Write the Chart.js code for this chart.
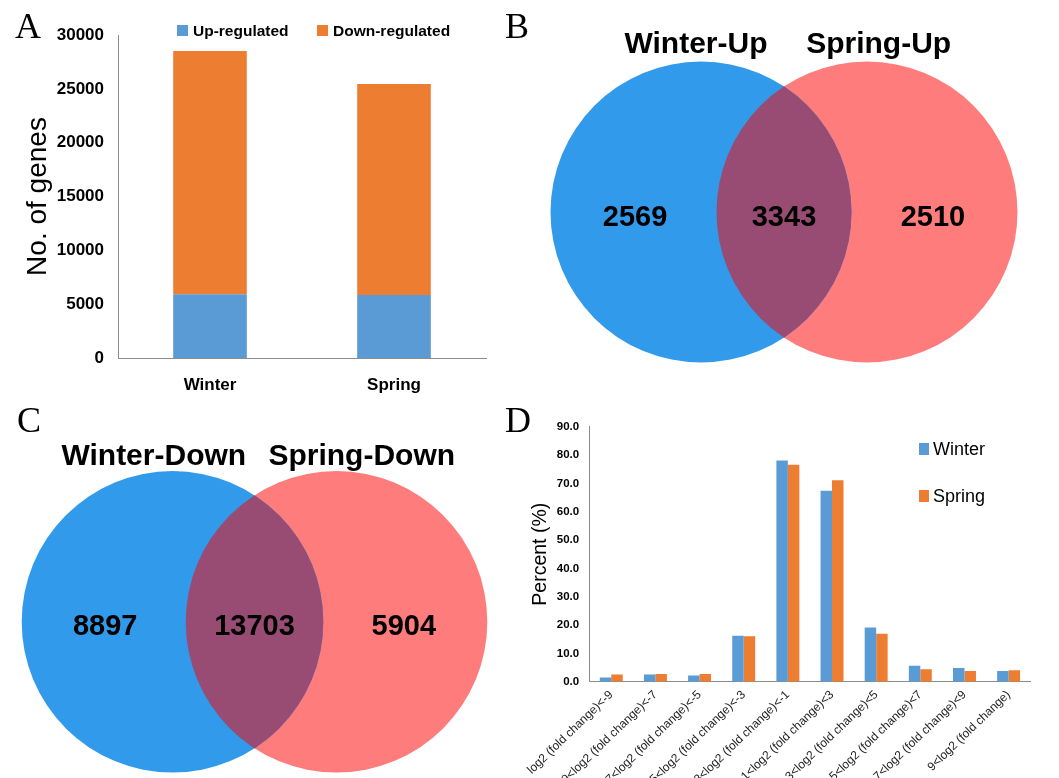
<!DOCTYPE html>
<html>
<head>
<meta charset="utf-8">
<script src="https://cdn.jsdelivr.net/npm/chart.js@4"></script>
<style>
  body { margin: 0; width: 1059px; height: 778px; overflow: hidden; background: #fff; position: relative;
         font-family: "Liberation Sans", Arial, sans-serif; }
  canvas, .tag, .key { position: absolute; }
  .tag { font-family: "Liberation Serif", "Times New Roman", serif; font-size: 36px; line-height: 36px; }
  .key { height: 20px; display: flex; align-items: center; white-space: nowrap; color: #000; }
  .key i { display: inline-block; }
</style>
</head>
<body>
<canvas id="barA" width="520" height="400" style="left:0;top:0"></canvas>
<canvas id="vennB" width="539" height="400" style="left:520px;top:0"></canvas>
<canvas id="vennC" width="520" height="378" style="left:0;top:400px"></canvas>
<canvas id="barD" width="539" height="400" style="left:520px;top:400px"></canvas>
<div class="tag" style="left:15px;top:8px">A</div>
<div class="tag" style="left:505px;top:8px">B</div>
<div class="tag" style="left:17px;top:402px">C</div>
<div class="tag" style="left:505px;top:402px">D</div>

<script>
// panel A
const periods = ['Winter', 'Spring'];
const upRegulated = [5912, 5853];
const downRegulated = [22600, 19607];

// panels B and C (Venn counts: only first, shared, only second)
const upSets = ['Winter-Up', 'Spring-Up'];
const upCounts = [2569, 3343, 2510];
const downSets = ['Winter-Down', 'Spring-Down'];
const downCounts = [8897, 13703, 5904];

// panel D
const foldBins = ['log2 (fold change)<-9', '-9<log2 (fold change)<-7', '-7<log2 (fold change)<-5',
  '-5<log2 (fold change)<-3', '-3<log2 (fold change)<-1', '1<log2 (fold change)<3',
  '3<log2 (fold change)<5', '5<log2 (fold change)<7', '7<log2 (fold change)<9', '9<log2 (fold change)'];
const winterPct = [1.5, 2.5, 2.2, 16.2, 78.1, 67.4, 19.1, 5.6, 4.8, 3.8];
const springPct = [2.5, 2.7, 2.7, 16.0, 76.6, 71.1, 16.9, 4.4, 3.8, 4.0];
const percentTicks = [0, 90, 10];

const FONT = '"Liberation Sans", Arial, sans-serif';
const blue = '#5B9BD5', orange = '#ED7D31';
const vennBlue = '#329AEB', vennRed = '#FF7C7C', vennMix = '#984C74';

Chart.defaults.font.family = FONT;
Chart.defaults.color = '#000';
Chart.defaults.animation = false;
Chart.defaults.events = [];
Chart.defaults.plugins.legend.display = false;
Chart.defaults.plugins.tooltip.enabled = false;

function addKeys(chart, spots, font, boxW, boxH, gap) {
  chart.data.datasets.forEach((ds, i) => {
    const el = document.createElement('div');
    el.className = 'key';
    el.style.left = spots[i][0] + 'px';
    el.style.top = (spots[i][1] - 10) + 'px';
    el.style.font = font;
    el.innerHTML = '<i style="width:' + boxW + 'px;height:' + boxH + 'px;margin-right:' + gap +
      'px;background:' + ds.backgroundColor + '"></i>' + ds.label;
    document.body.appendChild(el);
  });
}

let chartA = new Chart(document.getElementById('barA'), {
  type: 'bar',
  data: {
    labels: periods,
    datasets: [
      { label: 'Up-regulated', data: upRegulated, backgroundColor: blue },
      { label: 'Down-regulated', data: downRegulated, backgroundColor: orange }
    ]
  },
  options: {
    responsive: false,
    layout: { padding: { left: 0, top: 35, right: 34, bottom: 0 } },
    datasets: { bar: { categoryPercentage: 0.4, barPercentage: 1 } },
    scales: {
      x: {
        stacked: true,
        grid: { display: false, drawTicks: false },
        border: { color: '#8c8c8c' },
        ticks: { font: { size: 17, weight: 'bold' }, padding: 17 },
        afterFit: s => { s.height = 42 }
      },
      y: {
        stacked: true, min: 0, max: 30000,
        grid: { display: false, drawTicks: false },
        border: { color: '#8c8c8c' },
        ticks: { stepSize: 5000, font: { size: 17, weight: 'bold' }, padding: 14, callback: v => String(v) },
        title: { display: true, text: 'No. of genes', font: { size: 28 }, padding: { top: 21, bottom: 0 } },
        afterFit: s => { s.width = 118 }
      }
    }
  }
})
addKeys(chartA, [[177, 30.5], [317, 30.5]], 'bold 15.5px ' + FONT, 11, 11, 5);

// venn: shared lens is painted over the two circles, names and counts placed on the scales
const vennPlugin = {
  id: 'venn',
  afterDatasetsDraw(chart, args, opts) {
    const ctx = chart.ctx;
    const a = chart.getDatasetMeta(0).data[0];
    const b = chart.getDatasetMeta(1).data[0];
    ctx.save();
    ctx.beginPath();
    ctx.arc(a.x, a.y, a.options.radius, 0, Math.PI * 2);
    ctx.clip();
    ctx.beginPath();
    ctx.arc(b.x, b.y, b.options.radius, 0, Math.PI * 2);
    ctx.fillStyle = opts.mix;
    ctx.fill();
    ctx.restore();

    const xs = chart.scales.x, ys = chart.scales.y;
    ctx.save();
    ctx.fillStyle = '#000';
    ctx.textAlign = 'center';
    ctx.textBaseline = 'alphabetic';
    ctx.font = 'bold 30px ' + FONT;
    opts.sets.forEach((name, i) => {
      ctx.fillText(name, xs.getPixelForValue(opts.nameX[i]), ys.getPixelForValue(opts.nameY));
    });
    ctx.font = 'bold 29px ' + FONT;
    opts.counts.forEach((n, i) => {
      ctx.fillText(String(n), xs.getPixelForValue(opts.countX[i]), ys.getPixelForValue(opts.countY));
    });
    ctx.restore();
  }
};

// one unit = one circle radius; the bubble controller insets the chart area by the radius,
// so the visible range is worked out from the canvas size, the pair's midpoint and that inset
function drawVenn(id, sets, counts, v) {
  const cv = document.getElementById(id);
  const u = v.radius;
  return new Chart(cv, {
    type: 'bubble',
    data: {
      datasets: [
        { label: sets[0], data: [{ x: -v.sep / 2, y: 0 }], backgroundColor: vennBlue, radius: u, clip: false },
        { label: sets[1], data: [{ x: v.sep / 2, y: 0 }], backgroundColor: vennRed, radius: u, clip: false }
      ]
    },
    options: {
      responsive: false,
      layout: { padding: 0 },
      elements: { point: { borderWidth: 0, hoverRadius: 0, hoverBorderWidth: 0 } },
      scales: {
        x: { type: 'linear', display: false, min: (u - v.midX) / u, max: (cv.width - u - v.midX) / u },
        y: { type: 'linear', display: false, min: (v.midY - cv.height + u) / u, max: (v.midY - u) / u }
      },
      plugins: {
        venn: {
          mix: vennMix, sets: sets, counts: counts,
          nameX: v.nameX, nameY: v.nameY, countX: [-0.99, 0, 0.99], countY: -0.09
        }
      }
    },
    plugins: [vennPlugin]
  })
}

drawVenn('vennB', upSets, upCounts, {
  radius: 150.5, sep: 1.103, midX: 264, midY: 212,
  nameX: [-0.585, 0.629], nameY: 1.056
});
drawVenn('vennC', downSets, downCounts, {
  radius: 150.8, sep: 1.0875, midX: 254.5, midY: 221.8,
  nameX: [-0.668, 0.711], nameY: 1.040
});

let chartD = new Chart(document.getElementById('barD'), {
  type: 'bar',
  data: {
    labels: foldBins,
    datasets: [
      { label: 'Winter', data: winterPct, backgroundColor: blue },
      { label: 'Spring', data: springPct, backgroundColor: orange }
    ]
  },
  options: {
    responsive: false,
    layout: { padding: { left: 0, top: 26.7, right: 28.3, bottom: 0 } },
    datasets: { bar: { categoryPercentage: 0.52, barPercentage: 1 } },
    scales: {
      x: {
        grid: { display: false, drawTicks: false },
        border: { color: '#8c8c8c' },
        ticks: { autoSkip: false, minRotation: 44, maxRotation: 44, padding: 6, font: { size: 12 }, color: '#222' },
        afterFit: s => { s.height = 118.3 }
      },
      y: {
        min: percentTicks[0], max: percentTicks[1],
        grid: { display: false, drawTicks: false },
        border: { color: '#8c8c8c' },
        ticks: { stepSize: percentTicks[2], padding: 10, font: { size: 11.5, weight: 'bold' }, callback: v => v.toFixed(1) },
        title: { display: true, text: 'Percent (%)', font: { size: 19.5 }, padding: { top: 8.3, bottom: 0 } },
        afterFit: s => { s.width = 69 }
      }
    }
  }
})
addKeys(chartD, [[919, 449], [919, 496]], '18px ' + FONT, 10, 12, 4);
</script>
</body>
</html>
